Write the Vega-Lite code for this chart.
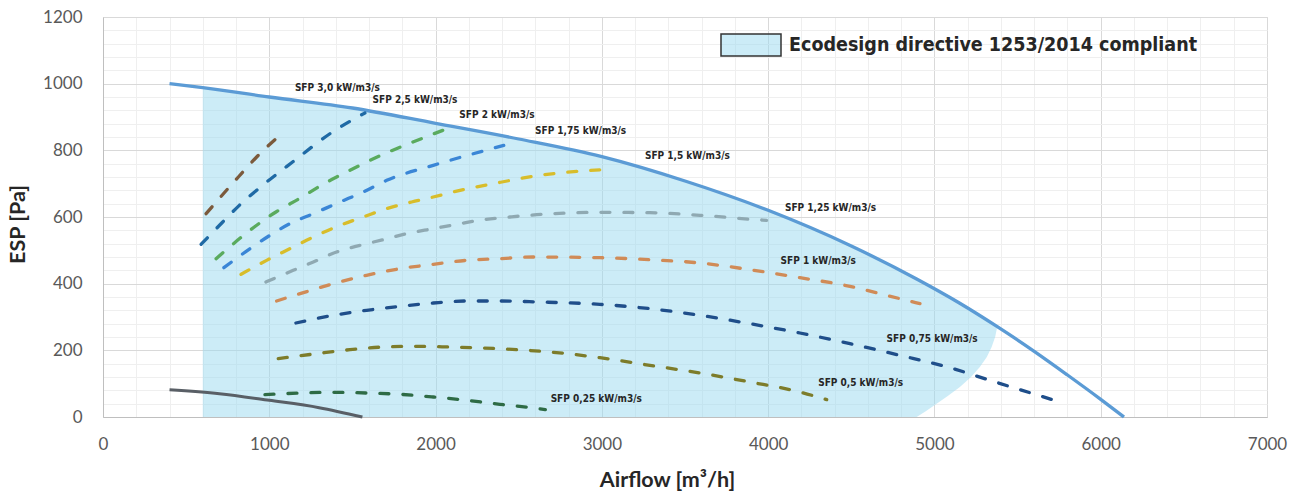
{
  "$schema": "https://vega.github.io/schema/vega-lite/v6.json",
  "width": 1164,
  "height": 400,
  "autosize": {"type": "none"},
  "padding": {"left": 103, "top": 17, "right": 31, "bottom": 79},
  "background": "white",
  "config": {
    "view": {"stroke": "#d9d9d9"},
    "axis": {
      "ticks": false,
      "domainColor": "#bfbfbf",
      "labelFont": "Lato",
      "labelFontSize": 17,
      "labelColor": "#595959",
      "labelOverlap": false,
      "labelFlush": false,
      "titleFont": "Lato",
      "titleFontSize": 21.5,
      "titleFontWeight": "bold",
      "titleColor": "#262626",
      "grid": true
    }
  },
  "datasets": {
    "fill": [
      {"x": 600, "hi": 988, "lo": 0},
      {"x": 800, "hi": 974, "lo": 0},
      {"x": 1000, "hi": 960, "lo": 0},
      {"x": 1250, "hi": 944, "lo": 0},
      {"x": 1500, "hi": 927, "lo": 0},
      {"x": 1750, "hi": 905, "lo": 0},
      {"x": 2000, "hi": 881, "lo": 0},
      {"x": 2250, "hi": 858, "lo": 0},
      {"x": 2500, "hi": 834, "lo": 0},
      {"x": 2750, "hi": 809, "lo": 0},
      {"x": 3000, "hi": 781, "lo": 0},
      {"x": 3250, "hi": 746, "lo": 0},
      {"x": 3500, "hi": 708, "lo": 0},
      {"x": 3750, "hi": 666, "lo": 0},
      {"x": 4000, "hi": 620, "lo": 0},
      {"x": 4250, "hi": 568, "lo": 0},
      {"x": 4500, "hi": 513, "lo": 0},
      {"x": 4700, "hi": 464, "lo": 0},
      {"x": 4893, "hi": 414, "lo": 0},
      {"x": 4950, "hi": 398, "lo": 18},
      {"x": 5013, "hi": 381, "lo": 40},
      {"x": 5080, "hi": 362, "lo": 63},
      {"x": 5153, "hi": 341, "lo": 90},
      {"x": 5220, "hi": 321, "lo": 120},
      {"x": 5273, "hi": 305, "lo": 150},
      {"x": 5315, "hi": 291, "lo": 180},
      {"x": 5344, "hi": 283, "lo": 210},
      {"x": 5365, "hi": 276, "lo": 240},
      {"x": 5378, "hi": 271, "lo": 271}
    ],
    "fan": [
      {"x": 400, "p": 1000},
      {"x": 600, "p": 988},
      {"x": 1000, "p": 960},
      {"x": 1500, "p": 927},
      {"x": 2000, "p": 881},
      {"x": 2500, "p": 834},
      {"x": 3000, "p": 781},
      {"x": 3500, "p": 708},
      {"x": 4000, "p": 620},
      {"x": 4500, "p": 513},
      {"x": 4893, "p": 414},
      {"x": 5150, "p": 342},
      {"x": 5378, "p": 271},
      {"x": 5600, "p": 197},
      {"x": 5800, "p": 126},
      {"x": 6000, "p": 53},
      {"x": 6140, "p": 0}
    ],
    "system": [
      {"x": 400, "p": 82},
      {"x": 700, "p": 70},
      {"x": 1000, "p": 50},
      {"x": 1300, "p": 28},
      {"x": 1560, "p": 0}
    ],
    "sfp": [
      {"s": "3,0", "x": 620, "p": 610},
      {"s": "3,0", "x": 760, "p": 690},
      {"s": "3,0", "x": 814, "p": 720},
      {"s": "3,0", "x": 924, "p": 780},
      {"s": "3,0", "x": 1075, "p": 850},
      {"s": "2,5", "x": 590, "p": 518},
      {"s": "2,5", "x": 720, "p": 585},
      {"s": "2,5", "x": 820, "p": 635},
      {"s": "2,5", "x": 960, "p": 695},
      {"s": "2,5", "x": 1140, "p": 765},
      {"s": "2,5", "x": 1380, "p": 855},
      {"s": "2,5", "x": 1575, "p": 912},
      {"s": "2", "x": 680, "p": 475},
      {"s": "2", "x": 910, "p": 570},
      {"s": "2", "x": 1040, "p": 615},
      {"s": "2", "x": 1180, "p": 655},
      {"s": "2", "x": 1340, "p": 703},
      {"s": "2", "x": 1425, "p": 725},
      {"s": "2", "x": 1685, "p": 788},
      {"s": "2", "x": 1966, "p": 845},
      {"s": "2", "x": 2106, "p": 872},
      {"s": "1,75", "x": 727, "p": 448},
      {"s": "1,75", "x": 884, "p": 505},
      {"s": "1,75", "x": 1004, "p": 545},
      {"s": "1,75", "x": 1124, "p": 580},
      {"s": "1,75", "x": 1265, "p": 610},
      {"s": "1,75", "x": 1425, "p": 645},
      {"s": "1,75", "x": 1565, "p": 675},
      {"s": "1,75", "x": 1706, "p": 710},
      {"s": "1,75", "x": 1986, "p": 755},
      {"s": "1,75", "x": 2410, "p": 815},
      {"s": "1,5", "x": 830, "p": 428},
      {"s": "1,5", "x": 984, "p": 470},
      {"s": "1,5", "x": 1124, "p": 505},
      {"s": "1,5", "x": 1265, "p": 540},
      {"s": "1,5", "x": 1425, "p": 575},
      {"s": "1,5", "x": 1565, "p": 600},
      {"s": "1,5", "x": 1706, "p": 625},
      {"s": "1,5", "x": 1856, "p": 645},
      {"s": "1,5", "x": 1986, "p": 660},
      {"s": "1,5", "x": 2147, "p": 680},
      {"s": "1,5", "x": 2347, "p": 700},
      {"s": "1,5", "x": 2628, "p": 725},
      {"s": "1,5", "x": 3000, "p": 742},
      {"s": "1,25", "x": 980, "p": 405},
      {"s": "1,25", "x": 1144, "p": 440},
      {"s": "1,25", "x": 1265, "p": 465},
      {"s": "1,25", "x": 1405, "p": 495},
      {"s": "1,25", "x": 1545, "p": 515},
      {"s": "1,25", "x": 1686, "p": 532},
      {"s": "1,25", "x": 1826, "p": 550},
      {"s": "1,25", "x": 1986, "p": 565},
      {"s": "1,25", "x": 2147, "p": 580},
      {"s": "1,25", "x": 2287, "p": 592},
      {"s": "1,25", "x": 2447, "p": 600},
      {"s": "1,25", "x": 2608, "p": 607},
      {"s": "1,25", "x": 2988, "p": 614},
      {"s": "1,25", "x": 3289, "p": 613},
      {"s": "1,25", "x": 3590, "p": 605},
      {"s": "1,25", "x": 3930, "p": 592},
      {"s": "1,25", "x": 3990, "p": 590},
      {"s": "1", "x": 1044, "p": 348},
      {"s": "1", "x": 1185, "p": 370},
      {"s": "1", "x": 1385, "p": 400},
      {"s": "1", "x": 1585, "p": 425},
      {"s": "1", "x": 1786, "p": 445},
      {"s": "1", "x": 1986, "p": 458},
      {"s": "1", "x": 2187, "p": 470},
      {"s": "1", "x": 2387, "p": 475},
      {"s": "1", "x": 2588, "p": 480},
      {"s": "1", "x": 2988, "p": 478},
      {"s": "1", "x": 3289, "p": 472},
      {"s": "1", "x": 3590, "p": 462},
      {"s": "1", "x": 3890, "p": 442},
      {"s": "1", "x": 4191, "p": 418},
      {"s": "1", "x": 4492, "p": 392},
      {"s": "1", "x": 4712, "p": 365},
      {"s": "1", "x": 4913, "p": 340},
      {"s": "0,75", "x": 1160, "p": 282},
      {"s": "0,75", "x": 1385, "p": 305},
      {"s": "0,75", "x": 1585, "p": 320},
      {"s": "0,75", "x": 1786, "p": 332},
      {"s": "0,75", "x": 1986, "p": 342},
      {"s": "0,75", "x": 2187, "p": 348},
      {"s": "0,75", "x": 2387, "p": 348},
      {"s": "0,75", "x": 2628, "p": 345},
      {"s": "0,75", "x": 2988, "p": 338},
      {"s": "0,75", "x": 3289, "p": 325},
      {"s": "0,75", "x": 3590, "p": 305},
      {"s": "0,75", "x": 3890, "p": 280},
      {"s": "0,75", "x": 4191, "p": 252},
      {"s": "0,75", "x": 4492, "p": 220},
      {"s": "0,75", "x": 4793, "p": 185},
      {"s": "0,75", "x": 5093, "p": 148},
      {"s": "0,75", "x": 5334, "p": 110},
      {"s": "0,75", "x": 5755, "p": 45},
      {"s": "0,5", "x": 1054, "p": 175},
      {"s": "0,5", "x": 1285, "p": 190},
      {"s": "0,5", "x": 1485, "p": 202},
      {"s": "0,5", "x": 1686, "p": 210},
      {"s": "0,5", "x": 1886, "p": 212},
      {"s": "0,5", "x": 2087, "p": 210},
      {"s": "0,5", "x": 2287, "p": 207},
      {"s": "0,5", "x": 2488, "p": 202},
      {"s": "0,5", "x": 2688, "p": 195},
      {"s": "0,5", "x": 2988, "p": 178},
      {"s": "0,5", "x": 3289, "p": 155},
      {"s": "0,5", "x": 3590, "p": 132},
      {"s": "0,5", "x": 3890, "p": 105},
      {"s": "0,5", "x": 4191, "p": 75},
      {"s": "0,5", "x": 4352, "p": 52},
      {"s": "0,25", "x": 974, "p": 67},
      {"s": "0,25", "x": 1185, "p": 72},
      {"s": "0,25", "x": 1385, "p": 74},
      {"s": "0,25", "x": 1585, "p": 72},
      {"s": "0,25", "x": 1786, "p": 68},
      {"s": "0,25", "x": 1986, "p": 60},
      {"s": "0,25", "x": 2187, "p": 50},
      {"s": "0,25", "x": 2387, "p": 38},
      {"s": "0,25", "x": 2588, "p": 27},
      {"s": "0,25", "x": 2660, "p": 22}
    ],
    "labels": [
      {"x": 1154, "p": 988, "t": "SFP 3,0 kW/m3/s"},
      {"x": 1621, "p": 950, "t": "SFP 2,5 kW/m3/s"},
      {"x": 2143, "p": 907, "t": "SFP 2 kW/m3/s"},
      {"x": 2598, "p": 858, "t": "SFP 1,75 kW/m3/s"},
      {"x": 3259, "p": 784, "t": "SFP 1,5 kW/m3/s"},
      {"x": 4101, "p": 628, "t": "SFP 1,25 kW/m3/s"},
      {"x": 4075, "p": 467, "t": "SFP 1 kW/m3/s"},
      {"x": 4712, "p": 235, "t": "SFP 0,75 kW/m3/s"},
      {"x": 4301, "p": 102, "t": "SFP 0,5 kW/m3/s"},
      {"x": 2692, "p": 55, "t": "SFP 0,25 kW/m3/s"}
    ]
  },
  "layer": [
    {
      "data": {"name": "fill"},
      "mark": {"type": "area", "interpolate": "linear", "fillOpacity": 0.5},
      "encoding": {
        "x": {
          "field": "x", "type": "quantitative",
          "scale": {"domain": [0, 7000], "nice": false, "zero": false},
          "axis": {
            "title": "Airflow [m³/h]",
            "values": [0,200,400,600,800,1000,1200,1400,1600,1800,2000,2200,2400,2600,2800,3000,3200,3400,3600,3800,4000,4200,4400,4600,4800,5000,5200,5400,5600,5800,6000,6200,6400,6600,6800,7000],
            "tickCount": 100,
            "format": "d",
            "labelExpr": "datum.value % 1000 === 0 ? datum.label : ''",
            "labelOverlap": false,
            "labelFlush": false,
            "gridColor": {"condition": {"test": "datum.value % 1000 === 0", "value": "#d9d9d9"}, "value": "#efefef"},
            "labelPadding": 19,
            "titlePadding": 17,
            "titleX": 564
          }
        },
        "y": {
          "field": "hi", "type": "quantitative",
          "scale": {"domain": [0, 1200], "nice": false},
          "axis": {
            "title": "ESP [Pa]",
            "values": [0,40,80,120,160,200,240,280,320,360,400,440,480,520,560,600,640,680,720,760,800,840,880,920,960,1000,1040,1080,1120,1160,1200],
            "tickCount": 100,
            "format": "d",
            "labelExpr": "datum.value % 200 === 0 ? datum.label : ''",
            "labelOverlap": false,
            "labelFlush": false,
            "gridColor": {"condition": {"test": "datum.value % 200 === 0", "value": "#d9d9d9"}, "value": "#efefef"},
            "labelPadding": 21,
            "titlePadding": 13,
            "titleY": 207
          }
        },
        "y2": {"field": "lo"},
        "color": {
          "datum": "Ecodesign directive 1253/2014 compliant",
          "scale": {"range": ["#99d9f0"]},
          "legend": {
            "orient": "none",
            "legendX": 617,
            "legendY": -3,
            "title": null,
            "symbolType": "M-1,-0.37H1V0.37H-1Z",
            "symbolSize": 3600,
            "symbolStrokeColor": "#333333",
            "symbolStrokeWidth": 1.5,
            "labelFont": "DejaVu Sans Condensed",
            "labelFontSize": 19.5,
            "labelFontWeight": "bold",
            "labelColor": "#262626",
            "labelLimit": 0,
            "labelOffset": 7,
            "encode": {"symbols": {"update": {"fillOpacity": {"value": 0.5}, "strokeOpacity": {"value": 1}, "opacity": {"value": 1}}}}
          }
        }
      }
    },
    {
      "data": {"name": "fan"},
      "mark": {"type": "line", "interpolate": "monotone", "color": "#5b9bd5", "strokeWidth": 3.3},
      "encoding": {
        "x": {"field": "x", "type": "quantitative"},
        "y": {"field": "p", "type": "quantitative"}
      }
    },
    {
      "data": {"name": "system"},
      "mark": {"type": "line", "interpolate": "monotone", "color": "#595f66", "strokeWidth": 3},
      "encoding": {
        "x": {"field": "x", "type": "quantitative"},
        "y": {"field": "p", "type": "quantitative"}
      }
    },
    {
      "data": {"name": "sfp"},
      "mark": {"type": "line", "interpolate": "monotone", "strokeWidth": 3.3, "strokeDash": [9, 14], "strokeCap": "round"},
      "encoding": {
        "x": {"field": "x", "type": "quantitative"},
        "y": {"field": "p", "type": "quantitative"},
        "color": {
          "field": "s", "type": "nominal",
          "scale": {
            "domain": ["3,0", "2,5", "2", "1,75", "1,5", "1,25", "1", "0,75", "0,5", "0,25"],
            "range": ["#7b5a3c", "#1f6aa5", "#5aab5e", "#3a86d6", "#d8bd2b", "#8fa9b2", "#d08b57", "#1f4e8a", "#7d7c2a", "#2e6b45"]
          },
          "legend": null
        }
      }
    },
    {
      "data": {"name": "labels"},
      "mark": {"type": "text", "align": "left", "baseline": "middle", "font": "DejaVu Sans Condensed", "fontSize": 10, "fontWeight": "bold", "color": "#262626"},
      "encoding": {
        "x": {"field": "x", "type": "quantitative"},
        "y": {"field": "p", "type": "quantitative"},
        "text": {"field": "t"}
      }
    }
  ],
  "resolve": {"scale": {"color": "independent"}}
}
